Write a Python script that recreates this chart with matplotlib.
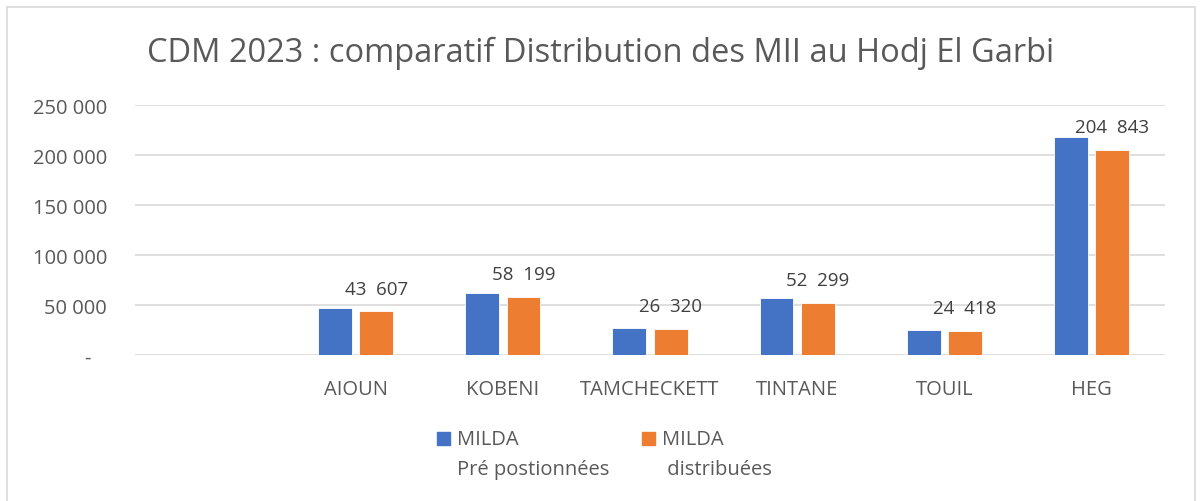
import numpy as np
import matplotlib.pyplot as plt
from matplotlib.patches import Rectangle

# data
categories = ["", "AIOUN", "KOBENI", "TAMCHECKETT", "TINTANE", "TOUIL", "HEG"]
pre_positionnees = [0, 47000, 62000, 26700, 56700, 25000, 218300]
distribuees = [0, 43607, 58199, 26320, 52299, 24418, 204843]
series_names = [("MILDA", "Pré postionnées"), ("MILDA", " distribuées")]
yticks = [0, 50000, 100000, 150000, 200000, 250000]

BLUE = "#4472C4"
ORANGE = "#ED7D31"
TEXT = "#595959"
GRID = "#D9D9D9"

plt.rcParams['font.family'] = ['Open Sans', 'DejaVu Sans']


def fmt(v):
    # french style thousands separator, accounting dash for zero
    if v == 0:
        return "-   "
    return f"{v:,.0f}".replace(",", " ")


fig = plt.figure(figsize=(12, 5.02), dpi=100)
W, H = 1200, 502
ax = fig.add_axes([135 / W, 1 - 356 / H, (1165 - 135) / W, (356 - 106) / H])

x = np.arange(len(categories))
w = 0.23
b1 = ax.bar(x - 0.14, pre_positionnees, width=w, color=BLUE, edgecolor="white",
            linewidth=0.6, zorder=3)
b2 = ax.bar(x + 0.14, distribuees, width=w, color=ORANGE, edgecolor="white",
            linewidth=0.6, zorder=3)

# labels only on the orange series
for xi, v in zip(x, distribuees):
    if v > 0:
        s = f"{v:,.0f}".replace(",", "  ")
        ax.annotate(s, (xi + 0.14, v), xytext=(0, 10), textcoords="offset points",
                    ha="center", va="bottom", fontsize=13.5, color="#404040")

ax.set_xlim(-0.5, len(categories) - 0.5)
ax.set_ylim(0, 250000)
ax.set_yticks(yticks)
ax.set_yticklabels([fmt(t) for t in yticks])
ax.set_xticks(x)
ax.set_xticklabels(categories)
ax.tick_params(axis="both", length=0, colors=TEXT)
ax.tick_params(axis="x", pad=17, labelsize=14.5)
ax.tick_params(axis="y", pad=20, labelsize=14.5)
ax.grid(axis="y", color=GRID, linewidth=1.2, zorder=0)
for sp in ax.spines.values():
    sp.set_visible(False)

fig.text(601 / W, 1 - 53 / H, "CDM 2023 : comparatif Distribution des MII au Hodj El Garbi",
         ha="center", va="center", fontsize=23.5, color=TEXT)

# legend: square aligned with the first line of each two-line label
for (x0, tx0), colour, (l1, l2) in zip([(437, 457), (642, 662)], [BLUE, ORANGE], series_names):
    fig.patches.append(Rectangle((x0 / W, 1 - 446 / H), 13 / W, 13 / H,
                                 transform=fig.transFigure, color=colour))
    fig.text(tx0 / W, 1 - 440 / H, l1, ha="left", va="center", fontsize=14.5, color=TEXT)
    fig.text(tx0 / W, 1 - 470 / H, l2, ha="left", va="center", fontsize=14.5, color=TEXT)

# chart area border
fig.patches.append(Rectangle((7 / W, -0.01), (1195 - 7) / W, 1 - 8 / H + 0.01,
                             transform=fig.transFigure, fill=False,
                             edgecolor="#D9D9D9", linewidth=1.2))

fig.savefig("out.png", dpi=100)
